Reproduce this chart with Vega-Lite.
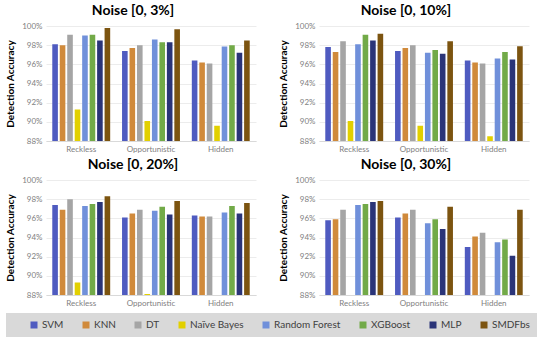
{
  "$schema": "https://vega.github.io/schema/vega-lite/v6.json",
  "background": "white",
  "padding": {"left": 5, "top": 4, "right": 5, "bottom": 4},
  "data": {"values": [
    {"noise":"Noise [0, 3%]","behavior":"Reckless","model":"SVM","acc":98.1},
    {"noise":"Noise [0, 3%]","behavior":"Reckless","model":"KNN","acc":98.0},
    {"noise":"Noise [0, 3%]","behavior":"Reckless","model":"DT","acc":99.1},
    {"noise":"Noise [0, 3%]","behavior":"Reckless","model":"Naïve Bayes","acc":91.3},
    {"noise":"Noise [0, 3%]","behavior":"Reckless","model":"Random Forest","acc":99.0},
    {"noise":"Noise [0, 3%]","behavior":"Reckless","model":"XGBoost","acc":99.1},
    {"noise":"Noise [0, 3%]","behavior":"Reckless","model":"MLP","acc":98.5},
    {"noise":"Noise [0, 3%]","behavior":"Reckless","model":"SMDFbs","acc":99.8},
    {"noise":"Noise [0, 3%]","behavior":"Opportunistic","model":"SVM","acc":97.4},
    {"noise":"Noise [0, 3%]","behavior":"Opportunistic","model":"KNN","acc":97.7},
    {"noise":"Noise [0, 3%]","behavior":"Opportunistic","model":"DT","acc":98.0},
    {"noise":"Noise [0, 3%]","behavior":"Opportunistic","model":"Naïve Bayes","acc":90.1},
    {"noise":"Noise [0, 3%]","behavior":"Opportunistic","model":"Random Forest","acc":98.6},
    {"noise":"Noise [0, 3%]","behavior":"Opportunistic","model":"XGBoost","acc":98.3},
    {"noise":"Noise [0, 3%]","behavior":"Opportunistic","model":"MLP","acc":98.3},
    {"noise":"Noise [0, 3%]","behavior":"Opportunistic","model":"SMDFbs","acc":99.65},
    {"noise":"Noise [0, 3%]","behavior":"Hidden","model":"SVM","acc":96.4},
    {"noise":"Noise [0, 3%]","behavior":"Hidden","model":"KNN","acc":96.2},
    {"noise":"Noise [0, 3%]","behavior":"Hidden","model":"DT","acc":96.1},
    {"noise":"Noise [0, 3%]","behavior":"Hidden","model":"Naïve Bayes","acc":89.6},
    {"noise":"Noise [0, 3%]","behavior":"Hidden","model":"Random Forest","acc":97.85},
    {"noise":"Noise [0, 3%]","behavior":"Hidden","model":"XGBoost","acc":98.0},
    {"noise":"Noise [0, 3%]","behavior":"Hidden","model":"MLP","acc":97.2},
    {"noise":"Noise [0, 3%]","behavior":"Hidden","model":"SMDFbs","acc":98.5},
    {"noise":"Noise [0, 10%]","behavior":"Reckless","model":"SVM","acc":97.8},
    {"noise":"Noise [0, 10%]","behavior":"Reckless","model":"KNN","acc":97.3},
    {"noise":"Noise [0, 10%]","behavior":"Reckless","model":"DT","acc":98.4},
    {"noise":"Noise [0, 10%]","behavior":"Reckless","model":"Naïve Bayes","acc":90.1},
    {"noise":"Noise [0, 10%]","behavior":"Reckless","model":"Random Forest","acc":98.1},
    {"noise":"Noise [0, 10%]","behavior":"Reckless","model":"XGBoost","acc":99.1},
    {"noise":"Noise [0, 10%]","behavior":"Reckless","model":"MLP","acc":98.5},
    {"noise":"Noise [0, 10%]","behavior":"Reckless","model":"SMDFbs","acc":99.2},
    {"noise":"Noise [0, 10%]","behavior":"Opportunistic","model":"SVM","acc":97.4},
    {"noise":"Noise [0, 10%]","behavior":"Opportunistic","model":"KNN","acc":97.7},
    {"noise":"Noise [0, 10%]","behavior":"Opportunistic","model":"DT","acc":98.0},
    {"noise":"Noise [0, 10%]","behavior":"Opportunistic","model":"Naïve Bayes","acc":89.6},
    {"noise":"Noise [0, 10%]","behavior":"Opportunistic","model":"Random Forest","acc":97.2},
    {"noise":"Noise [0, 10%]","behavior":"Opportunistic","model":"XGBoost","acc":97.5},
    {"noise":"Noise [0, 10%]","behavior":"Opportunistic","model":"MLP","acc":97.1},
    {"noise":"Noise [0, 10%]","behavior":"Opportunistic","model":"SMDFbs","acc":98.4},
    {"noise":"Noise [0, 10%]","behavior":"Hidden","model":"SVM","acc":96.4},
    {"noise":"Noise [0, 10%]","behavior":"Hidden","model":"KNN","acc":96.2},
    {"noise":"Noise [0, 10%]","behavior":"Hidden","model":"DT","acc":96.1},
    {"noise":"Noise [0, 10%]","behavior":"Hidden","model":"Naïve Bayes","acc":88.5},
    {"noise":"Noise [0, 10%]","behavior":"Hidden","model":"Random Forest","acc":96.6},
    {"noise":"Noise [0, 10%]","behavior":"Hidden","model":"XGBoost","acc":97.3},
    {"noise":"Noise [0, 10%]","behavior":"Hidden","model":"MLP","acc":96.5},
    {"noise":"Noise [0, 10%]","behavior":"Hidden","model":"SMDFbs","acc":97.9},
    {"noise":"Noise [0, 20%]","behavior":"Reckless","model":"SVM","acc":97.4},
    {"noise":"Noise [0, 20%]","behavior":"Reckless","model":"KNN","acc":96.9},
    {"noise":"Noise [0, 20%]","behavior":"Reckless","model":"DT","acc":98.0},
    {"noise":"Noise [0, 20%]","behavior":"Reckless","model":"Naïve Bayes","acc":89.3},
    {"noise":"Noise [0, 20%]","behavior":"Reckless","model":"Random Forest","acc":97.3},
    {"noise":"Noise [0, 20%]","behavior":"Reckless","model":"XGBoost","acc":97.5},
    {"noise":"Noise [0, 20%]","behavior":"Reckless","model":"MLP","acc":97.7},
    {"noise":"Noise [0, 20%]","behavior":"Reckless","model":"SMDFbs","acc":98.3},
    {"noise":"Noise [0, 20%]","behavior":"Opportunistic","model":"SVM","acc":96.1},
    {"noise":"Noise [0, 20%]","behavior":"Opportunistic","model":"KNN","acc":96.5},
    {"noise":"Noise [0, 20%]","behavior":"Opportunistic","model":"DT","acc":96.9},
    {"noise":"Noise [0, 20%]","behavior":"Opportunistic","model":"Naïve Bayes","acc":88.1},
    {"noise":"Noise [0, 20%]","behavior":"Opportunistic","model":"Random Forest","acc":96.8},
    {"noise":"Noise [0, 20%]","behavior":"Opportunistic","model":"XGBoost","acc":97.2},
    {"noise":"Noise [0, 20%]","behavior":"Opportunistic","model":"MLP","acc":96.4},
    {"noise":"Noise [0, 20%]","behavior":"Opportunistic","model":"SMDFbs","acc":97.8},
    {"noise":"Noise [0, 20%]","behavior":"Hidden","model":"SVM","acc":96.3},
    {"noise":"Noise [0, 20%]","behavior":"Hidden","model":"KNN","acc":96.2},
    {"noise":"Noise [0, 20%]","behavior":"Hidden","model":"DT","acc":96.2},
    {"noise":"Noise [0, 20%]","behavior":"Hidden","model":"Random Forest","acc":96.6},
    {"noise":"Noise [0, 20%]","behavior":"Hidden","model":"XGBoost","acc":97.3},
    {"noise":"Noise [0, 20%]","behavior":"Hidden","model":"MLP","acc":96.5},
    {"noise":"Noise [0, 20%]","behavior":"Hidden","model":"SMDFbs","acc":97.6},
    {"noise":"Noise [0, 30%]","behavior":"Reckless","model":"SVM","acc":95.8},
    {"noise":"Noise [0, 30%]","behavior":"Reckless","model":"KNN","acc":95.9},
    {"noise":"Noise [0, 30%]","behavior":"Reckless","model":"DT","acc":96.9},
    {"noise":"Noise [0, 30%]","behavior":"Reckless","model":"Random Forest","acc":97.4},
    {"noise":"Noise [0, 30%]","behavior":"Reckless","model":"XGBoost","acc":97.5},
    {"noise":"Noise [0, 30%]","behavior":"Reckless","model":"MLP","acc":97.7},
    {"noise":"Noise [0, 30%]","behavior":"Reckless","model":"SMDFbs","acc":97.8},
    {"noise":"Noise [0, 30%]","behavior":"Opportunistic","model":"SVM","acc":96.1},
    {"noise":"Noise [0, 30%]","behavior":"Opportunistic","model":"KNN","acc":96.5},
    {"noise":"Noise [0, 30%]","behavior":"Opportunistic","model":"DT","acc":96.9},
    {"noise":"Noise [0, 30%]","behavior":"Opportunistic","model":"Random Forest","acc":95.5},
    {"noise":"Noise [0, 30%]","behavior":"Opportunistic","model":"XGBoost","acc":95.9},
    {"noise":"Noise [0, 30%]","behavior":"Opportunistic","model":"MLP","acc":94.9},
    {"noise":"Noise [0, 30%]","behavior":"Opportunistic","model":"SMDFbs","acc":97.2},
    {"noise":"Noise [0, 30%]","behavior":"Hidden","model":"SVM","acc":93.0},
    {"noise":"Noise [0, 30%]","behavior":"Hidden","model":"KNN","acc":94.1},
    {"noise":"Noise [0, 30%]","behavior":"Hidden","model":"DT","acc":94.5},
    {"noise":"Noise [0, 30%]","behavior":"Hidden","model":"Random Forest","acc":93.5},
    {"noise":"Noise [0, 30%]","behavior":"Hidden","model":"XGBoost","acc":93.8},
    {"noise":"Noise [0, 30%]","behavior":"Hidden","model":"MLP","acc":92.1},
    {"noise":"Noise [0, 30%]","behavior":"Hidden","model":"SMDFbs","acc":96.9}
  ]},
  "spacing": 5,
  "vconcat": [
    {"hconcat": [
      {"title": {"text": "Noise [0, 3%]", "dx": -18}, "transform": [{"filter": "datum.noise == 'Noise [0, 3%]'"}], "width": 210, "height": 115, "mark": {"type": "bar", "clip": true},
       "encoding": {
        "x": {"field": "behavior", "type": "nominal", "sort": ["Reckless", "Opportunistic", "Hidden"], "scale": {"paddingInner": 0.17, "paddingOuter": 0.09}, "axis": {"title": null}},
        "xOffset": {"field": "model", "type": "nominal", "scale": {"domain": ["SVM", "KNN", "DT", "Naïve Bayes", "Random Forest", "XGBoost", "MLP", "SMDFbs"], "paddingInner": 0.25}},
        "y": {"field": "acc", "type": "quantitative", "scale": {"domain": [88, 100], "zero": false, "nice": false}, "axis": {"title": "Detection Accuracy", "values": [88, 90, 92, 94, 96, 98, 100]}},
        "color": {"field": "model", "type": "nominal", "scale": {"domain": ["SVM", "KNN", "DT", "Naïve Bayes", "Random Forest", "XGBoost", "MLP", "SMDFbs"], "range": ["#4f5bc0", "#d08a3b", "#a5a5a5", "#e2d000", "#7090da", "#72aa48", "#2a3478", "#7c5410"]},
          "legend": {"title": null, "orient": "none", "legendX": -40, "legendY": 287, "direction": "horizontal", "columns": 8, "symbolType": "square", "symbolSize": 49, "symbolStrokeWidth": 0, "symbolOffset": 16, "labelOffset": 3, "labelExpr": "datum.label == 'SMDFbs' ? 'SMDFbs\u2002\u2002\u2002\u00a0' : datum.label", "labelFont": "Lato", "labelFontSize": 10, "labelColor": "#404040", "columnPadding": 1, "fillColor": "#d9d9d9", "padding": 7}}
       }},
      {"title": {"text": "Noise [0, 10%]", "dx": -18}, "transform": [{"filter": "datum.noise == 'Noise [0, 10%]'"}], "width": 210, "height": 115, "mark": {"type": "bar", "clip": true},
       "encoding": {
        "x": {"field": "behavior", "type": "nominal", "sort": ["Reckless", "Opportunistic", "Hidden"], "scale": {"paddingInner": 0.17, "paddingOuter": 0.09}, "axis": {"title": null}},
        "xOffset": {"field": "model", "type": "nominal", "scale": {"domain": ["SVM", "KNN", "DT", "Naïve Bayes", "Random Forest", "XGBoost", "MLP", "SMDFbs"], "paddingInner": 0.25}},
        "y": {"field": "acc", "type": "quantitative", "scale": {"domain": [88, 100], "zero": false, "nice": false}, "axis": {"title": "Detection Accuracy", "values": [88, 90, 92, 94, 96, 98, 100]}},
        "color": {"field": "model", "type": "nominal"}
       }}
    ], "spacing": 22},
    {"hconcat": [
      {"title": {"text": "Noise [0, 20%]", "dx": -18}, "transform": [{"filter": "datum.noise == 'Noise [0, 20%]'"}], "width": 210, "height": 115, "mark": {"type": "bar", "clip": true},
       "encoding": {
        "x": {"field": "behavior", "type": "nominal", "sort": ["Reckless", "Opportunistic", "Hidden"], "scale": {"paddingInner": 0.17, "paddingOuter": 0.09}, "axis": {"title": null}},
        "xOffset": {"field": "model", "type": "nominal", "scale": {"domain": ["SVM", "KNN", "DT", "Naïve Bayes", "Random Forest", "XGBoost", "MLP", "SMDFbs"], "paddingInner": 0.25}},
        "y": {"field": "acc", "type": "quantitative", "scale": {"domain": [88, 100], "zero": false, "nice": false}, "axis": {"title": "Detection Accuracy", "values": [88, 90, 92, 94, 96, 98, 100]}},
        "color": {"field": "model", "type": "nominal"}
       }},
      {"title": {"text": "Noise [0, 30%]", "dx": -18}, "transform": [{"filter": "datum.noise == 'Noise [0, 30%]'"}], "width": 210, "height": 115, "mark": {"type": "bar", "clip": true},
       "encoding": {
        "x": {"field": "behavior", "type": "nominal", "sort": ["Reckless", "Opportunistic", "Hidden"], "scale": {"paddingInner": 0.17, "paddingOuter": 0.09}, "axis": {"title": null}},
        "xOffset": {"field": "model", "type": "nominal", "scale": {"domain": ["SVM", "KNN", "DT", "Naïve Bayes", "Random Forest", "XGBoost", "MLP", "SMDFbs"], "paddingInner": 0.25}},
        "y": {"field": "acc", "type": "quantitative", "scale": {"domain": [88, 100], "zero": false, "nice": false}, "axis": {"title": "Detection Accuracy", "values": [88, 90, 92, 94, 96, 98, 100]}},
        "color": {"field": "model", "type": "nominal"}
       }}
    ], "spacing": 22}
  ],
  "config": {
    "view": {"stroke": null},
    "title": {"font": "Lato", "fontSize": 14, "fontWeight": "bold", "color": "#000000", "offset": 4, "anchor": "middle"},
    "axisX": {"labelAngle": 0, "labelFont": "Lato", "labelFontSize": 8, "labelColor": "#7f7f7f", "ticks": false, "domainColor": "#d9d9d9", "labelPadding": 4, "grid": false},
    "axisY": {"labelExpr": "datum.value + '%'", "labelFont": "Lato", "labelFontSize": 8, "labelColor": "#7f7f7f", "titleFont": "Lato", "titleFontSize": 10, "titleFontWeight": "bold", "titleColor": "#000000", "titlePadding": 6, "domain": false, "ticks": false, "gridColor": "#ececec", "labelPadding": 4}
  }
}
